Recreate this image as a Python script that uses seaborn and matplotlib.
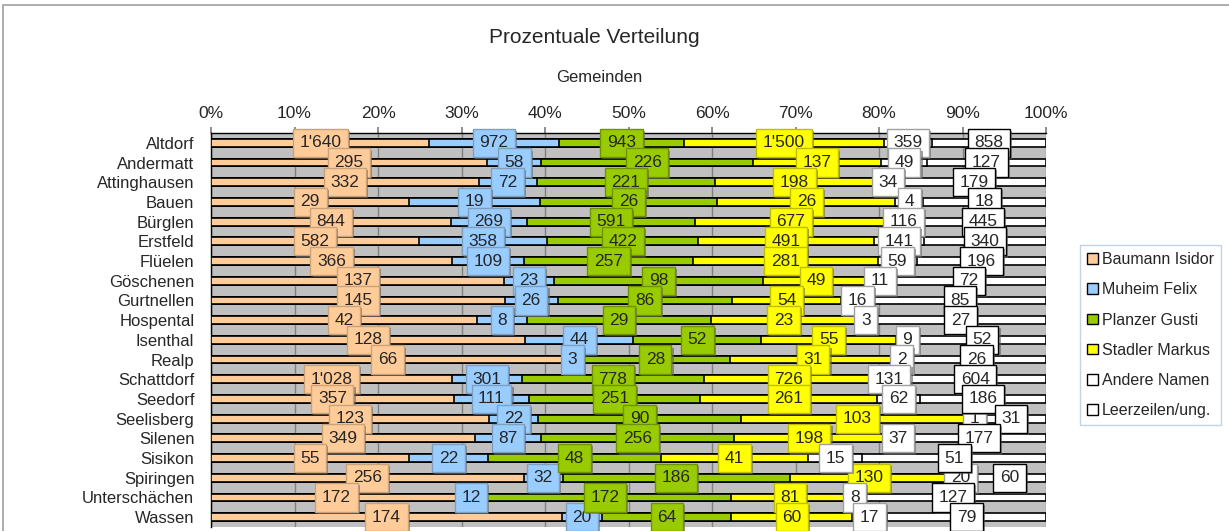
import matplotlib
matplotlib.use('Agg')
import matplotlib.pyplot as plt
import matplotlib.patheffects as pe
from matplotlib.patches import Patch, Rectangle
import numpy as np
import pandas as pd
import seaborn as sns

# ─── Data ─────────────────────────────────────────────────────
gemeinden = ['Altdorf', 'Andermatt', 'Attinghausen', 'Bauen', 'Bürglen', 'Erstfeld',
             'Flüelen', 'Göschenen', 'Gurtnellen', 'Hospental', 'Isenthal', 'Realp',
             'Schattdorf', 'Seedorf', 'Seelisberg', 'Silenen', 'Sisikon', 'Spiringen',
             'Unterschächen', 'Wassen']
baumann = [1640, 295, 332, 29, 844, 582, 366, 137, 145, 42, 128, 66, 1028, 357, 123, 349, 55, 256, 172, 174]
muheim = [972, 58, 72, 19, 269, 358, 109, 23, 26, 8, 44, 3, 301, 111, 22, 87, 22, 32, 12, 20]
planzer = [943, 226, 221, 26, 591, 422, 257, 98, 86, 29, 52, 28, 778, 251, 90, 256, 48, 186, 172, 64]
stadler = [1500, 137, 198, 26, 677, 491, 281, 49, 54, 23, 55, 31, 726, 261, 103, 198, 41, 130, 81, 60]
andere = [359, 49, 34, 4, 116, 141, 59, 11, 16, 3, 9, 2, 131, 62, 1, 37, 15, 20, 8, 17]
leer = [858, 127, 179, 18, 445, 340, 196, 72, 85, 27, 52, 26, 604, 186, 31, 177, 51, 60, 127, 79]

series = ['Baumann Isidor', 'Muheim Felix', 'Planzer Gusti', 'Stadler Markus',
          'Andere Namen', 'Leerzeilen/ung.']
values = [baumann, muheim, planzer, stadler, andere, leer]
fills = ['#FFCC99', '#99CCFF', '#99CC00', '#FFFF00', '#FFFFFF', '#FFFFFF']
box_edges = ['#C8A27A', '#7F9FBF', '#6E9200', '#BFBF00', '#A0A0A0', '#000000']

df = pd.DataFrame(dict(zip(series, values)), index=gemeinden)
share = df.div(df.sum(axis=1), axis=0) * 100
cum = share.cumsum(axis=1)

# ─── Plot ─────────────────────────────────────────────────────
sns.set_theme(style="white")
plt.rcParams['font.family'] = ['Liberation Sans', 'DejaVu Sans']

fig = plt.figure(figsize=(12.29, 5.31), dpi=100)
ax = fig.add_axes([211 / 1229, 1 - 527 / 531, (1046 - 211) / 1229, (527 - 133) / 531])
ax.set_facecolor('#C0C0C0')

# stacked bars: draw cumulative totals from the widest down
for i in range(len(series) - 1, -1, -1):
    plot_df = pd.DataFrame({'Gemeinde': gemeinden, 'cum': cum.iloc[:, i].values})
    sns.barplot(data=plot_df, x='cum', y='Gemeinde', orient='h', color=fills[i],
                saturation=1, edgecolor='black', linewidth=1.2, width=0.4,
                errorbar=None, ax=ax, zorder=3)

# value labels centered in each segment
for i, name in enumerate(series):
    centers = cum.iloc[:, i] - share.iloc[:, i] / 2
    for row, (c, v) in enumerate(zip(centers, df[name])):
        t = ax.text(c, row, f"{v:,}".replace(",", "'"), ha='center', va='center',
                    fontsize=12.5, zorder=6,
                    bbox=dict(boxstyle='square,pad=0.38', fc=fills[i], ec=box_edges[i], lw=1))
        t.get_bbox_patch().set_path_effects(
            [pe.SimplePatchShadow(offset=(1.5, -1.5), shadow_rgbFace='#606060', alpha=0.6),
             pe.Normal()])

ax.set_xlim(0, 100)
ax.set_ylim(len(gemeinden) - 0.5, -0.5)
ax.xaxis.tick_top()
ax.set_xticks(np.arange(0, 101, 10))
ax.set_xticklabels([f"{p}%" for p in range(0, 101, 10)], fontsize=12.5)
ax.tick_params(axis='x', which='major', length=4, color='#808080', pad=5)
ax.grid(axis='x', color='#808080', linewidth=1, zorder=0)
ax.set_axisbelow(True)
ax.set_xlabel('')
ax.set_ylabel('')

ax.tick_params(axis='y', which='major', length=0, labelsize=12, pad=12)
ax.set_yticks(np.arange(-0.5, len(gemeinden), 1), minor=True)
ax.tick_params(axis='y', which='minor', length=5, color='#808080')

for side in ['left', 'top']:
    ax.spines[side].set_color('black')
    ax.spines[side].set_linewidth(1)
for side in ['right', 'bottom']:
    ax.spines[side].set_visible(False)

fig.text(594 / 1229, 1 - 37 / 531, 'Prozentuale Verteilung', ha='center', va='center', fontsize=15)
fig.text(599 / 1229, 1 - 78 / 531, 'Gemeinden', ha='center', va='center', fontsize=12)

handles = [Patch(facecolor=f, edgecolor='black', linewidth=1) for f in fills]
leg = fig.legend(handles, series, loc='upper left', bbox_to_anchor=(1080 / 1229, 1 - 245 / 531),
                 fontsize=11.5, frameon=True, fancybox=False, handlelength=0.65, handleheight=0.65,
                 handletextpad=0.25, labelspacing=0.95, borderpad=0.45, borderaxespad=0)
leg.get_frame().set_edgecolor('#B8C8DC')
leg.get_frame().set_linewidth(1)

# chart area border
fig.patches.append(Rectangle((3 / 1229, -0.1), 1.2, 1.1 - 5 / 531, transform=fig.transFigure,
                             fill=False, edgecolor='#A0A0A0', linewidth=1.2))

fig.savefig('out.png', dpi=100)
